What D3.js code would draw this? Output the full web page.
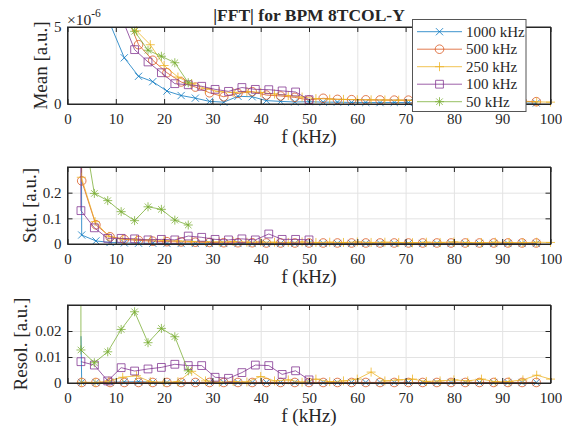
<!DOCTYPE html>
<html>
<head>
<meta charset="utf-8">
<script src="https://cdn.jsdelivr.net/npm/d3@7"></script>
<style>
body { margin: 0; background: #fff; }
text { font-family: "Times New Roman", "Liberation Serif", Tinos, "Nimbus Roman", Times, serif; fill: #262626; }
</style>
</head>
<body>
<svg id="chart" width="562" height="432"></svg>
<script>
// frequency grids (kHz); first entry of each grid is the low-frequency spike bin
const fA = [2.8, 2.94, 5.88, 8.82, 11.76, 14.71, 17.65, 20.59, 23.53, 26.47, 29.41, 32.35, 35.29, 38.24, 41.18, 44.12, 47.06, 50.00,
  52.94, 55.88, 58.82, 61.76, 64.71, 67.65, 70.59, 73.53, 76.47, 79.41, 82.35, 85.29, 88.24, 91.18, 94.12, 97.06];
const fB = [2.75, 2.86, 5.71, 8.57, 11.43, 14.29, 17.14, 20.00, 22.86, 25.71, 28.57, 31.43, 34.29, 37.14, 40.00, 42.86, 45.71, 48.57,
  51.43, 54.29, 57.14, 60.00, 62.86, 65.71, 68.57, 71.43, 74.29, 77.14, 80.00, 82.86, 85.71, 88.57, 91.43, 94.29, 97.14, 100.00];
const fC = [2.65, 2.78, 5.56, 8.33, 11.11, 13.89, 16.67, 19.44, 22.22, 25.00, 27.78, 30.56, 33.33, 36.11, 38.89, 41.67, 44.44, 47.22, 50.00];
const fD = [2.65, 2.78, 5.56, 8.33, 11.11, 13.89, 16.67, 19.44, 22.22, 25.00];

// Mean (x1e-6)
const mean1000 = [null, 40, 15, 5.2, 3.0, 1.8, 1.45, 0.84, 0.55, 0.38, 0.17, 0.12, 0.5, 0.47, 0.22, 0.17, 0.13, 0.15, 0.12, 0.12, 0.1,
  0.1, 0.09, 0.1, 0.09, 0.08, 0.09, 0.08, 0.08, 0.07, 0.08, 0.07, 0.06, 0.06];
const mean500 = [null, 60, 20, 9, 6.1, 3.85, 2.84, 2.03, 1.43, 1.1, 0.73, 0.47, 0.69, 0.8, 0.58, 0.52, 0.43, 0.26, 0.37, 0.3, 0.28,
  0.27, 0.26, 0.25, 0.25, 0.24, 0.24, 0.23, 0.22, 0.22, 0.21, 0.2, 0.18, 0.15];
const mean250 = [null, 60, 25, 10, 6.0, 4.75, 3.85, 2.5, 1.75, 1.32, 1.0, 0.8, 0.75, 0.8, 0.75, 0.65, 0.55, 0.45, 0.35, 0.32, 0.3,
  0.28, 0.27, 0.26, 0.25, 0.24, 0.23, 0.22, 0.22, 0.21, 0.2, 0.19, 0.18, 0.16, 0.14, 0.12];
const mean100 = [null, 40, 15, 8, 5.7, 3.53, 2.73, 2.03, 1.32, 1.25, 1.15, 0.95, 0.82, 1.07, 0.95, 0.93, 0.85, 0.78, 0.28];
const mean50 = [null, 40, 15, 8, 5.84, 4.72, 3.49, 3.1, 2.68, 1.38];

// Std
const std1000 = [1.0, 0.035, 0.012, 0.006, 0.004, 0.003, 0.003, 0.002, 0.002, 0.002, 0.002, 0.002, 0.002, 0.002, 0.002, 0.002, 0.002,
  0.002, 0.002, 0.002, 0.002, 0.002, 0.002, 0.002, 0.002, 0.002, 0.002, 0.002, 0.002, 0.002, 0.002, 0.002, 0.002, 0.002];
const std500 = [1.0, 0.246, 0.075, 0.028, 0.018, 0.014, 0.011, 0.009, 0.008, 0.007, 0.006, 0.005, 0.005, 0.005, 0.004, 0.004, 0.004,
  0.004, 0.004, 0.004, 0.004, 0.004, 0.004, 0.004, 0.004, 0.004, 0.004, 0.004, 0.004, 0.004, 0.004, 0.004, 0.004, 0.004];
const std250 = [null, 0.26, 0.087, 0.03, 0.02, 0.018, 0.016, 0.014, 0.012, 0.01, 0.009, 0.008, 0.01, 0.007, 0.008, 0.007, 0.006, 0.008,
  0.006, 0.007, 0.006, 0.008, 0.006, 0.007, 0.006, 0.005, 0.007, 0.006, 0.008, 0.006, 0.005, 0.007, 0.006, 0.005, 0.007, 0.006];
const std100 = [1.0, 0.13, 0.063, 0.022, 0.022, 0.02, 0.016, 0.018, 0.016, 0.031, 0.026, 0.018, 0.016, 0.02, 0.016, 0.039, 0.018, 0.018, 0.016];
const std50 = [null, 0.51, 0.197, 0.169, 0.126, 0.091, 0.145, 0.135, 0.093, 0.074];

// Resolution
const res1000 = [0.018, 0.0002, 0.0002, 0.0003, 0.0004, 0.0005, 0.0003, 0.0002, 0.0002, 0.0002, 0.0002, 0.0002, 0.0002, 0.0002, 0.0002,
  0.0002, 0.0002, 0.0002, 0.0002, 0.0002, 0.0002, 0.0002, 0.0002, 0.0002, 0.0002, 0.0002, 0.0002, 0.0002, 0.0002, 0.0002, 0.0002, 0.0002,
  0.0002, 0.0002];
const res500 = [null, 0.0002, 0.0002, 0.0002, 0.0002, 0.0002, 0.0002, 0.0002, 0.0002, 0.0002, 0.0002, 0.0002, 0.0002, 0.0002, 0.0002,
  0.0002, 0.0002, 0.0002, 0.0002, 0.0002, 0.0002, 0.0002, 0.0002, 0.0002, 0.0002, 0.0002, 0.0002, 0.0002, 0.0002, 0.0002, 0.0002, 0.0002,
  0.0002, 0.0002];
const res250 = [null, 0.0003, 0.0002, 0.0008, 0.0022, 0.0028, 0.0005, 0.0003, 0.0005, 0.0045, 0.0008, 0.0003, 0.0006, 0.0004, 0.0025,
  0.0008, 0.0012, 0.0003, 0.0015, 0.0005, 0.0008, 0.0015, 0.0042, 0.0008, 0.0012, 0.0015, 0.0006, 0.0008, 0.0012, 0.0008, 0.0015,
  0.0005, 0.0006, 0.0012, 0.003, 0.0015];
const res100 = [null, 0.0082, 0.0069, 0.0008, 0.0059, 0.0046, 0.0054, 0.006, 0.0072, 0.0067, 0.0067, 0.0022, 0.0018, 0.004, 0.0069,
  0.0067, 0.0033, 0.0047, 0.0012];
const res50 = [1.0, 0.0127, 0.0078, 0.012, 0.0206, 0.0274, 0.0155, 0.021, 0.0178, 0.0047];

const seriesNames = ["1000 kHz", "500 kHz", "250 kHz", "100 kHz", "50 kHz"];
const xTicks = [0, 10, 20, 30, 40, 50, 60, 70, 80, 90, 100];

const series = [
  { name: seriesNames[0], color: "#0072BD", marker: "x", f: fA, mean: mean1000, std: std1000, resol: res1000 },
  { name: seriesNames[1], color: "#D95319", marker: "o", f: fA, mean: mean500, std: std500, resol: res500 },
  { name: seriesNames[2], color: "#EDB120", marker: "+", f: fB, mean: mean250, std: std250, resol: res250 },
  { name: seriesNames[3], color: "#7E2F8E", marker: "s", f: fC, mean: mean100, std: std100, resol: res100 },
  { name: seriesNames[4], color: "#77AC30", marker: "*", f: fD, mean: mean50, std: std50, resol: res50 }
];

const panels = [
  { key: "mean", label: "Mean [a.u.]", top: 27, bottom: 104, max: 5, ticks: [0, 5], labelX: 40 },
  { key: "std", label: "Std. [a.u.]", top: 167, bottom: 244, max: 0.3, ticks: [0, 0.1, 0.2], labelX: 29 },
  { key: "resol", label: "Resol. [a.u.]", top: 305, bottom: 383, max: 0.03, ticks: [0, 0.01, 0.02], labelX: 20 }
];

const svg = d3.select("#chart");
const x = d3.scaleLinear().domain([0, 100]).range([67.5, 550.5]);
const left = x.range()[0], right = x.range()[1];

// marker shapes like matlab
function markerPath(type) {
  if (type === "x") { const s = 3.6; return `M${-s},${-s}L${s},${s}M${-s},${s}L${s},${-s}`; }
  if (type === "+") { const s = 4.5; return `M${-s},0L${s},0M0,${-s}L0,${s}`; }
  if (type === "o") { const s = 4.3; return `M${-s},0a${s},${s} 0 1,0 ${2 * s},0a${s},${s} 0 1,0 ${-2 * s},0Z`; }
  if (type === "s") { const s = 3.9; return `M${-s},${-s}h${2 * s}v${2 * s}h${-2 * s}Z`; }
  const s = 4.5, k = s * 0.72;
  return `M${-s},0L${s},0M0,${-s}L0,${s}M${-k},${-k}L${k},${k}M${-k},${k}L${k},${-k}`;
}

panels.forEach((p, pi) => {
  const y = d3.scaleLinear().domain([0, p.max]).range([p.bottom, p.top]);
  const h = p.bottom - p.top;
  const g = svg.append("g");

  // grid
  g.append("g")
    .attr("transform", `translate(0,${p.bottom})`)
    .call(d3.axisBottom(x).tickValues(xTicks).tickSize(-h).tickFormat(""))
    .call(a => a.select(".domain").remove())
    .selectAll("line").attr("stroke", "#e3e3e3");
  g.append("g")
    .attr("transform", `translate(${left},0)`)
    .call(d3.axisLeft(y).tickValues(p.ticks).tickSize(-(right - left)).tickFormat(""))
    .call(a => a.select(".domain").remove())
    .selectAll("line").attr("stroke", "#e3e3e3");

  // data
  const clipId = "clip" + pi;
  svg.append("clipPath").attr("id", clipId)
    .append("rect").attr("x", left).attr("y", p.top).attr("width", right - left).attr("height", h);

  series.forEach(s => {
    const pts = s.f.map((f, i) => ({ f: f, v: s[p.key][i], i: i }));
    const line = d3.line().defined(d => d.v != null).x(d => x(d.f)).y(d => y(d.v));
    g.append("path")
      .datum(pts)
      .attr("clip-path", `url(#${clipId})`)
      .attr("d", line)
      .attr("fill", "none")
      .attr("stroke", s.color)
      .attr("stroke-opacity", 0.85)
      .attr("stroke-width", 0.9);
    // no marker on the spike bin
    g.selectAll(null)
      .data(pts.filter(d => d.i > 0 && d.v != null && d.v <= p.max))
      .enter().append("path")
      .attr("transform", d => `translate(${x(d.f)},${y(d.v)})`)
      .attr("d", markerPath(s.marker))
      .attr("fill", "none")
      .attr("stroke", s.color)
      .attr("stroke-opacity", 0.85)
      .attr("stroke-width", 0.9);
  });

  // box and axes
  const xAxis = g.append("g")
    .attr("transform", `translate(0,${p.bottom})`)
    .call(d3.axisBottom(x).tickValues(xTicks).tickSizeInner(-5).tickSizeOuter(0).tickPadding(9));
  xAxis.selectAll("text").attr("font-size", 15);
  g.append("g")
    .attr("transform", `translate(0,${p.top})`)
    .call(d3.axisTop(x).tickValues(xTicks).tickSizeInner(-5).tickSizeOuter(0).tickFormat(""));
  const yAxis = g.append("g")
    .attr("transform", `translate(${left},0)`)
    .call(d3.axisLeft(y).tickValues(p.ticks).tickSizeInner(-5).tickSizeOuter(0).tickPadding(6).tickFormat(d3.format("~g")));
  yAxis.selectAll("text").attr("font-size", 15);
  g.append("g")
    .attr("transform", `translate(${right},0)`)
    .call(d3.axisRight(y).tickValues(p.ticks).tickSizeInner(-5).tickSizeOuter(0).tickFormat(""));
  g.selectAll(".domain").attr("stroke", "#262626");
  g.selectAll(".tick line").filter(function () { return d3.select(this).attr("stroke") !== "#e3e3e3"; })
    .attr("stroke", "#262626");
  g.selectAll(".tick text").attr("fill", "#262626");
  g.append("rect")
    .attr("x", left).attr("y", p.top).attr("width", right - left).attr("height", h)
    .attr("fill", "none").attr("stroke", "#262626").attr("stroke-width", 1);

  // labels
  g.append("text")
    .attr("x", (left + right) / 2).attr("y", p.bottom + 39)
    .attr("text-anchor", "middle").attr("font-size", 19)
    .text("f (kHz)");
  g.append("text")
    .attr("transform", `translate(${p.labelX},${(p.top + p.bottom) / 2}) rotate(-90)`)
    .attr("dy", "0.35em")
    .attr("text-anchor", "middle").attr("font-size", 19)
    .text(p.label);
});

// exponent and title
const expo = svg.append("text").attr("x", 67).attr("y", 25).attr("font-size", 15.5);
expo.append("tspan").text("\u00d710");
expo.append("tspan").attr("dy", -8).attr("font-size", 11.5).text("-6");

svg.append("text")
  .attr("x", (left + right) / 2).attr("y", 21)
  .attr("text-anchor", "middle").attr("font-size", 17.5).attr("font-weight", "bold")
  .text("|FFT| for BPM 8TCOL-Y");

// legend
const leg = svg.append("g");
leg.append("rect")
  .attr("x", 412.5).attr("y", 19.5).attr("width", 113.5).attr("height", 92)
  .attr("fill", "#fff").attr("stroke", "#555").attr("stroke-width", 1);
series.forEach((s, i) => {
  const yy = 31.7 + i * 17.5;
  leg.append("line").attr("x1", 417).attr("x2", 462).attr("y1", yy).attr("y2", yy)
    .attr("stroke", s.color).attr("stroke-opacity", 0.85).attr("stroke-width", 0.9);
  leg.append("path").attr("transform", `translate(439.5,${yy})`).attr("d", markerPath(s.marker))
    .attr("fill", "none").attr("stroke", s.color).attr("stroke-opacity", 0.85).attr("stroke-width", 0.9);
  leg.append("text").attr("x", 466).attr("y", yy).attr("dy", "0.35em").attr("font-size", 15).text(s.name);
});
</script>
</body>
</html>
